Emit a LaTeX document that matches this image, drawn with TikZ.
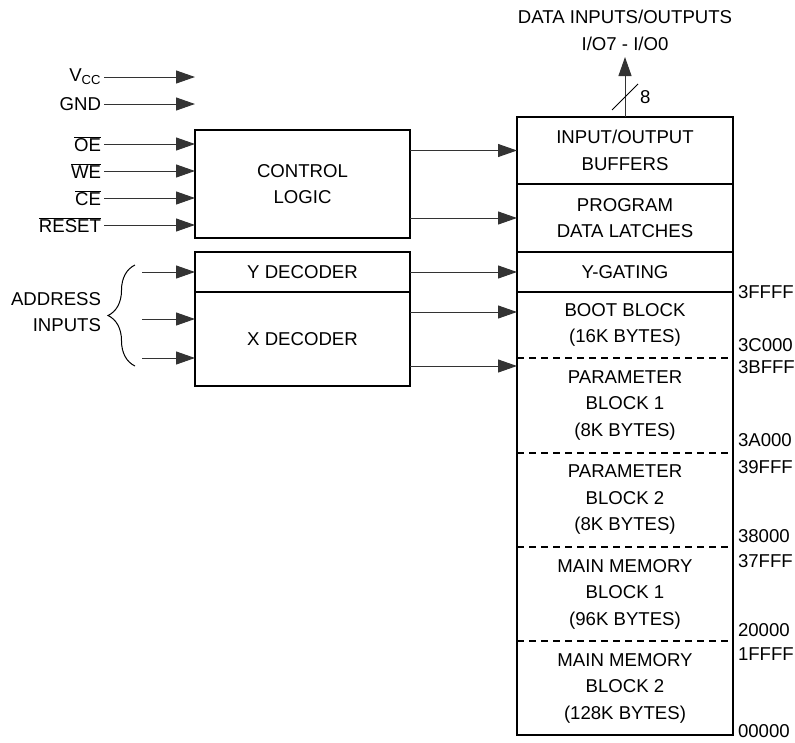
\documentclass[tikz,border=0pt]{standalone}
\usepackage{fontspec}
\setmainfont{Liberation Sans}
\usetikzlibrary{arrows.meta, positioning, decorations.pathreplacing}

\begin{document}
\begin{tikzpicture}[
  x=1pt, y=-1pt,
  every node/.style = {font=\fontsize{18.6}{26.5}\selectfont, outer sep=0pt},
  blkbox/.style  = {rectangle, draw=black, line width=1.5pt,
                    minimum width=#1, align=center, inner sep=0pt},
  memblk/.style  = {rectangle, minimum width=216pt, align=center,
                    inner sep=0pt},
  pinlbl/.style  = {anchor=east, inner sep=3pt, align=right},
  addrlbl/.style = {anchor=west, inner sep=2pt},
  sig/.style     = {-{Triangle[length=19pt, width=13pt]},
                    line width=1pt, black!80},
  divline/.style = {line width=1.3pt, dash pattern=on 7pt off 5pt},
]
\useasboundingbox (0,0) rectangle (795,742);

%% ══ LEFT: pins and control logic ════════════════════════════════════════
\node[pinlbl] at (104, 77)  (vcc)   {V\textsubscript{CC}};
\node[pinlbl] at (104, 104) (gnd)   {GND};
\node[pinlbl] at (104, 144) (oe)    {$\overline{\mbox{OE}}$};
\node[pinlbl] at (104, 171) (we)    {$\overline{\mbox{WE}}$};
\node[pinlbl] at (104, 198) (ce)    {$\overline{\mbox{CE}}$};
\node[pinlbl] at (104, 225) (reset) {$\overline{\mbox{RESET}}$};

\node[blkbox=215pt, minimum height=108pt] at (302.5, 184) (ctrl)
  {CONTROL\\LOGIC};

\coordinate (vccend) at (195, 77);
\coordinate (gndend) at (195, 104);
\draw[sig] (vcc.east) -- (vccend);
\draw[sig] (gnd.east) -- (gndend);
\draw[sig] (oe.east)    -- (oe.east -| ctrl.west);
\draw[sig] (we.east)    -- (we.east -| ctrl.west);
\draw[sig] (ce.east)    -- (ce.east -| ctrl.west);
\draw[sig] (reset.east) -- (reset.east -| ctrl.west);

%% ══ LEFT: address inputs and decoders ═══════════════════════════════════
\node[blkbox=215pt, minimum height=40pt] at (302.5, 272) (ydec) {Y DECODER};
\node[blkbox=215pt, minimum height=94pt] at (302.5, 339) (xdec) {X DECODER};

\node[pinlbl] at (104, 312) (addr) {ADDRESS\\INPUTS};
\draw[line width=1pt] (135, 366) -- (135, 265)
  [decorate, decoration={brace, amplitude=27pt, aspect=0.5}];

\coordinate (yin)  at (142, 272);
\coordinate (xin1) at (142, 319);
\coordinate (xin2) at (142, 358);
\draw[sig] (yin)  -- (ydec.west);
\draw[sig] (xin1) -- (xin1 -| xdec.west);
\draw[sig] (xin2) -- (xin2 -| xdec.west);

%% ══ RIGHT: buffers, latches, gating ═════════════════════════════════════
\node[blkbox=216pt, minimum height=67pt] at (625, 150.5) (iobuf)
  {INPUT/OUTPUT\\BUFFERS};
\node[blkbox=216pt, minimum height=68pt] at (625, 218) (latch)
  {PROGRAM\\DATA LATCHES};
\node[blkbox=216pt, minimum height=40pt] at (625, 272) (ygate) {Y-GATING};

%% ── memory array ────────────────────────────────────────────────────────
\node[memblk, minimum height=66pt] at (625, 325)   (boot)
  {BOOT BLOCK\\(16K BYTES)};
\node[memblk, minimum height=95pt] at (625, 405.5) (par1)
  {PARAMETER\\BLOCK 1\\(8K BYTES)};
\node[memblk, minimum height=94pt] at (625, 500)   (par2)
  {PARAMETER\\BLOCK 2\\(8K BYTES)};
\node[memblk, minimum height=94pt] at (625, 594)   (main1)
  {MAIN MEMORY\\BLOCK 1\\(96K BYTES)};
\node[memblk, minimum height=94pt] at (625, 688)   (main2)
  {MAIN MEMORY\\BLOCK 2\\(128K BYTES)};

\draw[line width=1.5pt] (boot.north west) rectangle (main2.south east);
\draw[divline] (boot.south west)  -- (boot.south east);
\draw[divline] (par1.south west)  -- (par1.south east);
\draw[divline] (par2.south west)  -- (par2.south east);
\draw[divline] (main1.south west) -- (main1.south east);

%% ── addresses ───────────────────────────────────────────────────────────
\node[addrlbl] at (736, 292) (a3ffff) {3FFFF};
\node[addrlbl] at (736, 345) (a3c000) {3C000};
\node[addrlbl] at (736, 367) (a3bfff) {3BFFF};
\node[addrlbl] at (736, 440) (a3a000) {3A000};
\node[addrlbl] at (736, 467) (a39fff) {39FFF};
\node[addrlbl] at (736, 536) (a38000) {38000};
\node[addrlbl] at (736, 561) (a37fff) {37FFF};
\node[addrlbl] at (736, 630) (a20000) {20000};
\node[addrlbl] at (736, 654) (a1ffff) {1FFFF};
\node[addrlbl] at (736, 731) (a00000) {00000};

%% ══ MIDDLE: connectors ══════════════════════════════════════════════════
\draw[sig] (ctrl.east |- iobuf) -- (iobuf.west);
\draw[sig] (ctrl.east |- latch) -- (latch.west);
\draw[sig] (ydec.east) -- (ygate.west);

\coordinate (xout1) at ([yshift=27pt]xdec.east);
\coordinate (xout2) at ([yshift=-27pt]xdec.east);
\draw[sig] (xout1) -- (xout1 -| boot.west);
\draw[sig] (xout2) -- (xout2 -| boot.west);

%% ══ TOP: data bus ═══════════════════════════════════════════════════════
\node[align=center] at (625, 30.5) (datalbl)
  {DATA INPUTS/OUTPUTS\\I/O7 - I/O0};
\coordinate (datatip) at (625, 57);
\draw[sig] (iobuf.north) -- (datatip);
\draw[line width=0.8pt] (612, 110) -- (638, 84);
\node[anchor=west, inner sep=0pt] at (640, 97) (buswidth) {8};

\end{tikzpicture}
\end{document}
